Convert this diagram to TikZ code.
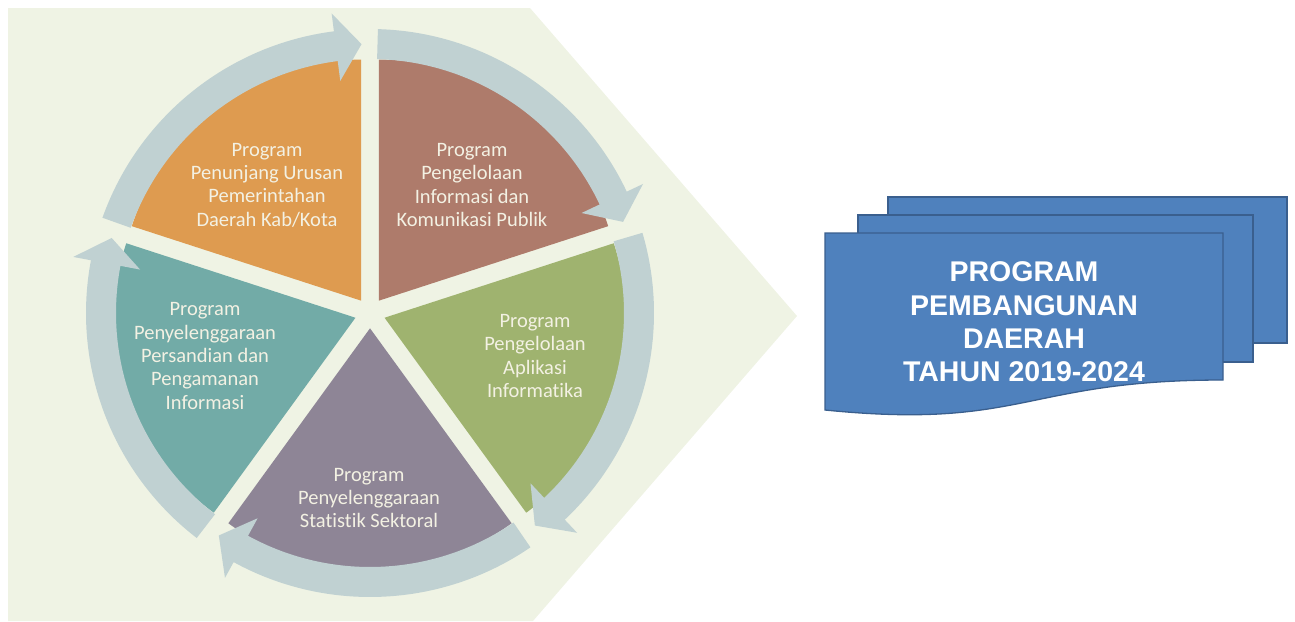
\documentclass[tikz,border=0pt]{standalone}
\usepackage{fontspec}
\setmainfont{Carlito}[Ligatures=NoCommon]
\newfontfamily\docfont{Liberation Sans}
\usepackage{tikz}

\definecolor{bgGreen}{HTML}{EFF3E4}
\definecolor{ringGray}{HTML}{C0D1D2}
\definecolor{secOrange}{HTML}{DE9B50}
\definecolor{secBrown}{HTML}{AE7B6B}
\definecolor{secGreen}{HTML}{9FB36F}
\definecolor{secPurple}{HTML}{8E8596}
\definecolor{secTeal}{HTML}{72ABA7}
\definecolor{docBlue}{HTML}{4F81BD}
\definecolor{docEdge}{HTML}{3A5F8E}
\definecolor{labelCream}{HTML}{F3F1E3}

\tikzset{
  seclabel/.style={text=labelCream, align=center, font=\fontsize{20.5}{23.3}\selectfont},
  doclabel/.style={text=white, align=center, font=\docfont\bfseries\fontsize{28.5}{33.3}\selectfont},
  docpage/.style={fill=docBlue, draw=docEdge, line width=1.3pt},
}

\begin{document}
\begin{tikzpicture}[x=1pt,y=1pt]
    \useasboundingbox (0,0) rectangle (1295,-621);
    % Background
    \fill[bgGreen] (8,-8) -- (530,-8) -- (797,-316) -- (533,-621) -- (8,-621) -- cycle;

    % Cycle
    \begin{scope}[shift={(370,-313)}]
        % Sectors, pulled apart from the centre
        \foreach \a/\b/\col in {90/162/secOrange, 18/90/secBrown, -54/18/secGreen, -126/-54/secPurple, 162/234/secTeal} {
            \fill[\col, shift={({(\a+\b)/2}:15.3)}] (0,0) -- (\a:241) arc[start angle=\a, end angle=\b, radius=241] -- cycle;
        }

        % Arrows round the outside: tail angle / tip angle
        \foreach \t/\e in {160.4/91.8, 88.4/19.8, 16.4/-52.2, -55.6/-124.2, -127.6/-196.2} {
            \pgfmathsetmacro\bk{\e+5.5}
            \fill[ringGray] (\t:284) arc[start angle=\t, end angle=\bk, radius=284]
                -- (\bk:302) -- (\e:269) -- (\bk:234) -- (\bk:254)
                arc[start angle=\bk, end angle=\t, radius=254] -- cycle;
        }
    \end{scope}

    \node[seclabel] (penunjang) at (267,-185) {Program\\Penunjang Urusan\\Pemerintahan\\Daerah Kab/Kota};
    \node[seclabel] (komunikasi) at (472,-185) {Program\\Pengelolaan\\Informasi dan\\Komunikasi Publik};
    \node[seclabel] (aplikasi) at (535,-356) {Program\\Pengelolaan\\Aplikasi\\Informatika};
    \node[seclabel] (statistik) at (369,-498) {Program\\Penyelenggaraan\\Statistik Sektoral};
    \node[seclabel] (persandian) at (205,-356) {Program\\Penyelenggaraan\\Persandian dan\\Pengamanan\\Informasi};

    % Document stack
    \draw[docpage] (888,-197) rectangle (1287,-343);
    \draw[docpage] (858,-215) rectangle (1253,-362);
    \draw[docpage] (825,-233) -- (1223,-233) -- (1223,-380) .. controls (1024,-380) and (1024,-430) .. (825,-410) -- cycle;
    \node[doclabel] (pembangunan) at (1024,-322) {PROGRAM\\PEMBANGUNAN\\DAERAH\\TAHUN 2019-2024};
\end{tikzpicture}
\end{document}
